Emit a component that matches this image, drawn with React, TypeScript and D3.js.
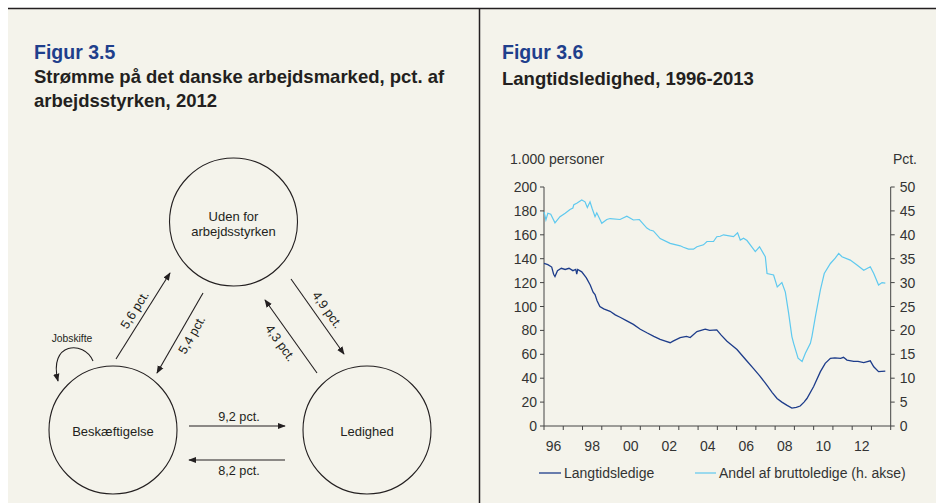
import React from "react";
import * as d3 from "d3";

// ---------- Data (Figur 3.6) ----------
const longTermTimes = [1996.0,1996.2,1996.4,1996.5,1996.57,1996.7,1996.9,1997.1,1997.3,1997.5,1997.65,1997.7,1997.75,1997.96,1998.2,1998.4,1998.55,1998.65,1998.75,1998.9,1999.1,1999.43,1999.7,1999.95,2000.3,2000.64,2001.0,2001.34,2001.7,2002.03,2002.3,2002.55,2002.7,2003.07,2003.4,2003.59,2003.94,2004.37,2004.6,2004.97,2005.2,2005.5,2005.8,2006.02,2006.5,2006.88,2007.2,2007.58,2007.85,2008.1,2008.35,2008.6,2008.87,2009.1,2009.3,2009.5,2009.65,2010.0,2010.35,2010.6,2010.87,2011.1,2011.4,2011.55,2011.73,2012.08,2012.3,2012.6,2012.94,2013.12,2013.37,2013.72];
const longTermValues = [136,135,133,127,125,130,132,131,132,130,131,127,131,129,124,118,112,110,105,100,98,96,93,91,88,85,81,78,75,72.5,71,69.7,71,74,75,74,79,81,80,80.5,76,71,67,64,55,48,42,34,28,23,20,17.5,15,15.5,16.7,20,23,33,45.5,52.4,56.6,57,56.6,57.5,55.2,54,54,53,54.5,49.6,45.5,46];

const shareTimes = [1996.0,1996.1,1996.2,1996.35,1996.57,1996.83,1997.1,1997.35,1997.5,1997.55,1997.7,1997.96,1998.13,1998.25,1998.39,1998.5,1998.65,1998.74,1999.0,1999.26,1999.43,1999.95,2000.3,2000.64,2000.95,2001.34,2001.5,2001.68,2002.03,2002.55,2003.07,2003.24,2003.5,2003.76,2003.94,2004.28,2004.46,2004.8,2004.97,2005.15,2005.32,2005.84,2006.05,2006.19,2006.36,2006.54,2006.97,2007.19,2007.49,2007.58,2007.92,2008.11,2008.35,2008.53,2008.7,2008.87,2008.96,2009.19,2009.4,2009.57,2009.83,2009.91,2010.09,2010.35,2010.55,2010.87,2011.12,2011.3,2011.47,2011.9,2012.25,2012.6,2012.94,2013.12,2013.37,2013.55,2013.72];
const shareValues = [44.8,43.1,44.5,44.3,42.5,43.8,44.5,45.3,45.6,46.3,46.6,47.3,46.9,45.7,46.9,45.5,43.8,44.6,42.4,43.2,43.4,43.2,43.9,43.1,43.2,41.4,41.0,40.8,39.2,38.2,37.7,37.4,37.0,37.0,37.5,37.9,38.6,38.6,39.6,39.7,40.0,39.6,40.4,38.9,39.3,38.8,36.5,37.5,35.4,31.9,31.6,29.1,30.0,28.0,23.6,18.7,17.3,14.2,13.5,15.2,17.3,18.7,22.9,28.5,31.9,34.0,35.1,36.1,35.4,34.7,33.7,32.6,33.3,31.9,29.5,30.0,29.9];

const leftTicks = [0,20,40,60,80,100,120,140,160,180,200];
const rightTicks = [0,5,10,15,20,25,30,35,40,45,50];
const yearTicks = d3.range(1996, 2015);
const yearLabels = ["96","98","00","02","04","06","08","10","12"];
const yearLabelYears = [1996,1998,2000,2002,2004,2006,2008,2010,2012];

const seriesNames = ["Langtidsledige", "Andel af bruttoledige (h. akse)"];

// ---------- Data (Figur 3.5) ----------
const flowLabels = ["9,2 pct.", "8,2 pct.", "5,6 pct.", "5,4 pct.", "4,3 pct.", "4,9 pct."];

const BG = "#f4f3eb";
const DARK = "#1d3c8a";
const LIGHT = "#5ec9ef";
const TXT = "#231f20";
const TITLE = "#1f3f8c";
const FONT = "'Liberation Sans', Arial, sans-serif";

function Arrow({ x1, y1, x2, y2 }: { x1: number; y1: number; x2: number; y2: number }) {
  return <line x1={x1} y1={y1} x2={x2} y2={y2} stroke={TXT} strokeWidth={1.1} markerEnd="url(#ah)" />;
}

function RotLabel({ cx, cy, angle, text }: { cx: number; cy: number; angle: number; text: string }) {
  return (
    <text x={0} y={0} transform={`translate(${cx},${cy}) rotate(${angle})`} textAnchor="middle" dominantBaseline="central" fontSize={12.7} fill={TXT}>
      {text}
    </text>
  );
}

export default function App() {
  const x = d3.scaleLinear().domain([1996, 2014]).range([544, 890.7]);
  const yL = d3.scaleLinear().domain([0, 200]).range([426, 187]);
  const yR = d3.scaleLinear().domain([0, 50]).range([426, 187]);

  const darkLine = d3.line<number>().x((_, i) => x(longTermTimes[i])).y((v) => yL(v))(longTermValues) || "";
  const lightLine = d3.line<number>().x((_, i) => x(shareTimes[i])).y((v) => yR(v))(shareValues) || "";

  const axisColor = "#444";
  const tickTxt = "#333";

  return (
    <svg width={936} height={503} style={{ position: "absolute", left: 0, top: 0, fontFamily: FONT }}>
      <defs>
        <marker id="ah" viewBox="0 0 10 10" refX={9} refY={5} markerWidth={8} markerHeight={8} markerUnits="userSpaceOnUse" orient="auto">
          <path d="M0,1 L10,5 L0,9 Z" fill={TXT} />
        </marker>
      </defs>
      <rect x={0} y={0} width={936} height={503} fill="#fff" />
      <rect x={8} y={8} width={928} height={495} fill={BG} />
      <line x1={8} y1={8.5} x2={936} y2={8.5} stroke={TXT} strokeWidth={1.5} />
      <line x1={479.5} y1={8} x2={479.5} y2={503} stroke={TXT} strokeWidth={1.5} />

      {/* Left panel titles */}
      <text x={34} y={59} fontSize={19.5} fontWeight="bold" fill={TITLE}>Figur 3.5</text>
      <text x={34} y={83} fontSize={18.5} fontWeight="bold" fill={TXT}>Strømme på det danske arbejdsmarked, pct. af</text>
      <text x={34} y={107} fontSize={18.5} fontWeight="bold" fill={TXT}>arbejdsstyrken, 2012</text>

      {/* Right panel titles */}
      <text x={502} y={59} fontSize={19.5} fontWeight="bold" fill={TITLE}>Figur 3.6</text>
      <text x={502} y={85} fontSize={18.5} fontWeight="bold" fill={TXT}>Langtidsledighed, 1996-2013</text>

      {/* Diagram */}
      <g>
        <circle cx={233.5} cy={222} r={64} fill="none" stroke={TXT} strokeWidth={1.1} />
        <circle cx={113} cy={430} r={64} fill="none" stroke={TXT} strokeWidth={1.1} />
        <circle cx={367} cy={430} r={64} fill="none" stroke={TXT} strokeWidth={1.1} />
        <text x={233.5} y={216} textAnchor="middle" dominantBaseline="central" fontSize={13} fill={TXT}>Uden for</text>
        <text x={233.5} y={231} textAnchor="middle" dominantBaseline="central" fontSize={13} fill={TXT}>arbejdsstyrken</text>
        <text x={113} y={431} textAnchor="middle" dominantBaseline="central" fontSize={13} fill={TXT}>Beskæftigelse</text>
        <text x={367} y={431} textAnchor="middle" dominantBaseline="central" fontSize={13} fill={TXT}>Ledighed</text>

        <Arrow x1={189} y1={426} x2={285} y2={426} />
        <text x={239} y={417} textAnchor="middle" dominantBaseline="central" fontSize={12.7} fill={TXT}>{flowLabels[0]}</text>
        <Arrow x1={285} y1={460} x2={189} y2={460} />
        <text x={239} y={471} textAnchor="middle" dominantBaseline="central" fontSize={12.7} fill={TXT}>{flowLabels[1]}</text>

        <Arrow x1={116} y1={359} x2={170} y2={273} />
        <RotLabel cx={135} cy={310} angle={-57.9} text={flowLabels[2]} />
        <Arrow x1={203} y1={293} x2={157} y2={373} />
        <RotLabel cx={192} cy={335} angle={-60.3} text={flowLabels[3]} />
        <Arrow x1={317} y1={373} x2={265} y2={300} />
        <RotLabel cx={280} cy={343} angle={54.5} text={flowLabels[4]} />
        <Arrow x1={291} y1={279} x2={344} y2={354} />
        <RotLabel cx={327} cy={310} angle={54.9} text={flowLabels[5]} />

        <path d="M93,361 C84,340 48,342 58,381" fill="none" stroke={TXT} strokeWidth={1.1} markerEnd="url(#ah)" />
        <text x={72} y={338} textAnchor="middle" dominantBaseline="central" fontSize={10.3} fill={TXT}>Jobskifte</text>
      </g>

      {/* Chart */}
      <g>
        <text x={510} y={164} fontSize={14} fill={tickTxt}>1.000 personer</text>
        <text x={917} y={164} fontSize={14} fill={tickTxt} textAnchor="end">Pct.</text>

        <line x1={x(1996)} y1={yL(200)} x2={x(1996)} y2={yL(0)} stroke={axisColor} strokeWidth={1} />
        <line x1={x(2014)} y1={yR(50)} x2={x(2014)} y2={yR(0)} stroke={axisColor} strokeWidth={1} />
        <line x1={x(1996)} y1={yL(0)} x2={x(2014)} y2={yL(0)} stroke={axisColor} strokeWidth={1} />

        {leftTicks.map((t) => (
          <g key={"l" + t}>
            <line x1={x(1996) - 4} x2={x(1996)} y1={yL(t)} y2={yL(t)} stroke={axisColor} />
            <text x={x(1996) - 7} y={yL(t)} textAnchor="end" dominantBaseline="central" fontSize={14} fill={tickTxt}>{t}</text>
          </g>
        ))}
        {rightTicks.map((t) => (
          <g key={"r" + t}>
            <line x1={x(2014)} x2={x(2014) + 4} y1={yR(t)} y2={yR(t)} stroke={axisColor} />
            <text x={x(2014) + 9} y={yR(t)} textAnchor="start" dominantBaseline="central" fontSize={14} fill={tickTxt}>{t}</text>
          </g>
        ))}
        {yearTicks.map((t) => (
          <line key={"x" + t} x1={x(t)} x2={x(t)} y1={yL(0)} y2={yL(0) + 4} stroke={axisColor} />
        ))}
        {yearLabelYears.map((yr, i) => (
          <text key={"xl" + yr} x={x(yr + 0.5)} y={446} textAnchor="middle" dominantBaseline="central" fontSize={14} fill={tickTxt}>{yearLabels[i]}</text>
        ))}

        <path d={lightLine} fill="none" stroke={LIGHT} strokeWidth={1.2} />
        <path d={darkLine} fill="none" stroke={DARK} strokeWidth={1.3} />

        <line x1={539} x2={561} y1={473} y2={473} stroke={DARK} strokeWidth={1.3} />
        <text x={564} y={473} dominantBaseline="central" fontSize={14} fill={tickTxt}>{seriesNames[0]}</text>
        <line x1={695} x2={716} y1={473} y2={473} stroke={LIGHT} strokeWidth={1.2} />
        <text x={719} y={473} dominantBaseline="central" fontSize={14} fill={tickTxt}>{seriesNames[1]}</text>
      </g>
    </svg>
  );
}
